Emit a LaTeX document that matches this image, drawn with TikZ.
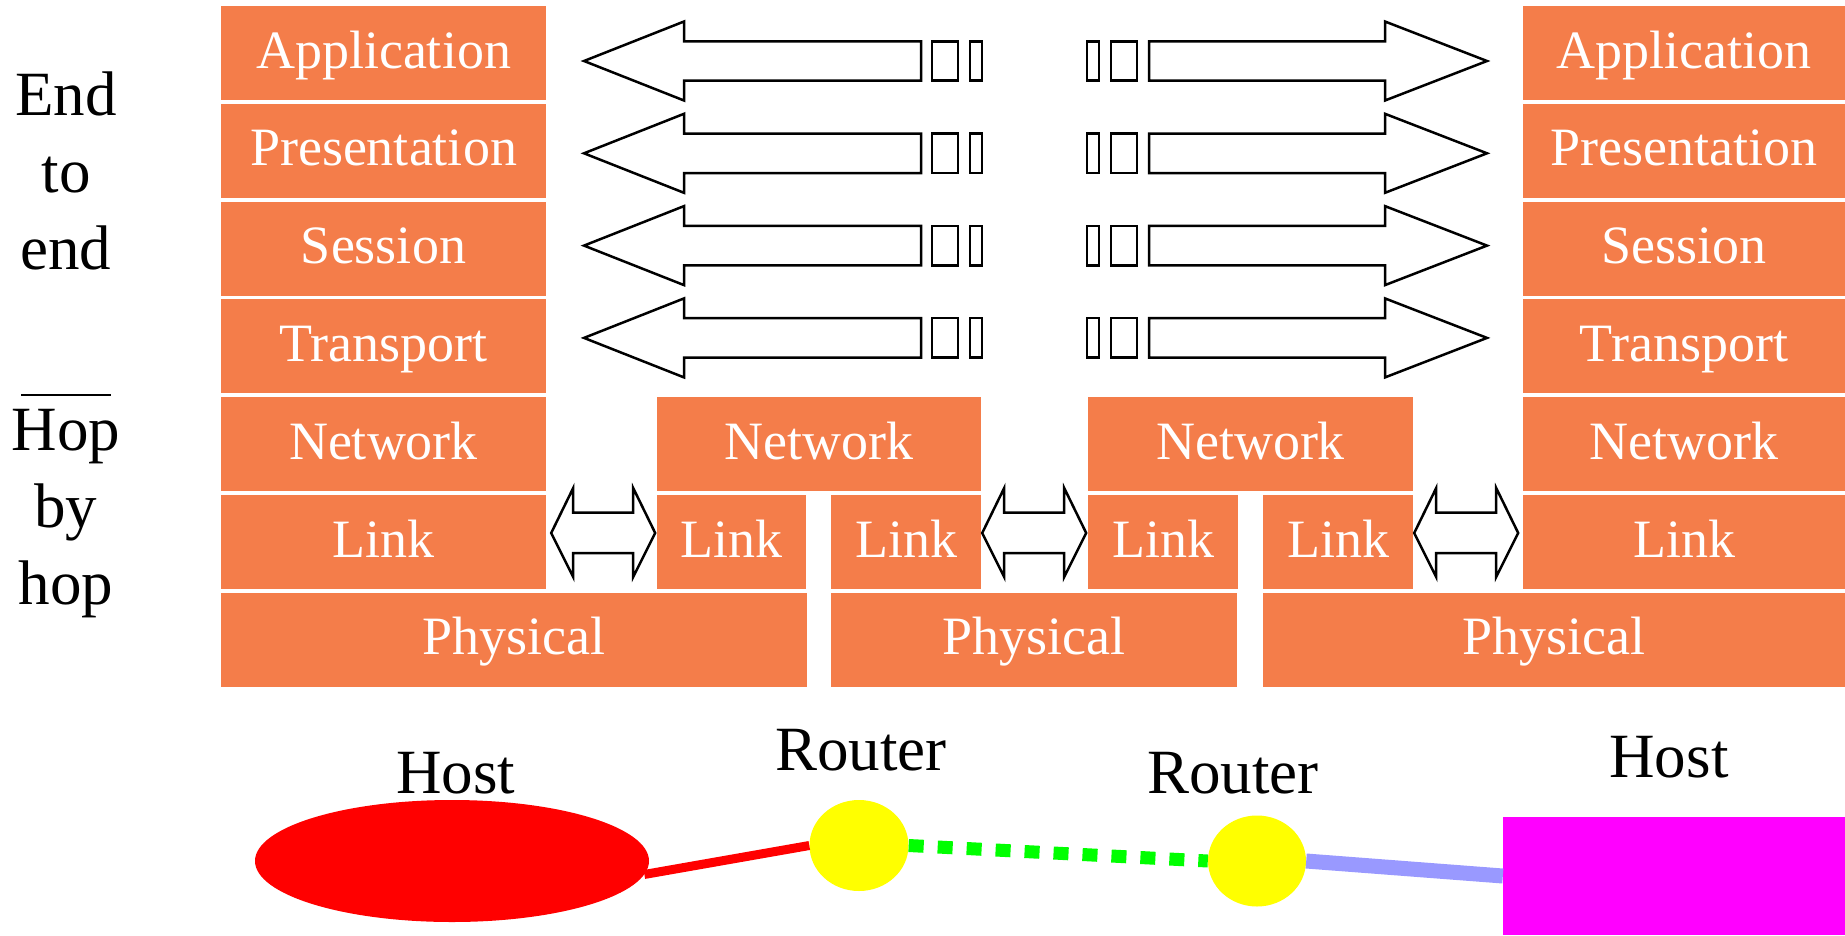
\documentclass[tikz,border=0pt]{standalone}
\usepackage{fontspec}
\setmainfont{Liberation Serif}
\usetikzlibrary{shapes.geometric,calc}
\definecolor{layerorange}{RGB}{244,125,74}
\definecolor{linkblue}{RGB}{153,153,255}
\definecolor{hostred}{RGB}{255,0,0}
\definecolor{routeryellow}{RGB}{255,255,0}
\definecolor{hostmagenta}{RGB}{255,0,255}
\definecolor{linkgreen}{RGB}{0,255,0}
\newcommand{\linkarrow}[1]{\draw[hollow] (#1) -- ++(22,-45) -- ++(0,24.5) -- ++(60,0) -- ++(0,-24.5) -- ++(22,45) -- ++(-22,44) -- ++(0,-24) -- ++(-60,0) -- ++(0,24) -- cycle;}
\begin{document}
\begin{tikzpicture}[x=1pt, y=-1pt]
    % OSI stacks of two hosts and two routers
    \tikzset{layer/.style={fill=layerorange, text=white, inner sep=0pt, minimum height=94pt, text height=40pt, text depth=10pt, font=\fontsize{54}{60}\selectfont},
             hollow/.style={draw=black, fill=white, line width=2.5pt, line join=miter},
             sidelabel/.style={anchor=north, align=center, inner sep=0pt, font=\fontsize{63}{77}\selectfont},
             devlabel/.style={anchor=base, inner sep=0pt, font=\fontsize{63}{70}\selectfont}}
    \useasboundingbox (0,0) rectangle (1845,935);
    \node[sidelabel] (e2e) at (66,72) {End\\to\\end};
    \node[sidelabel] (hbh) at (66,409) {Hop\\by\\hop};
    \draw[line width=2.5pt] (21,395) -- (111,395);
    % left host
    \node[layer, minimum width=325pt] (aApp) at (383.5,53) {Application};
    \node[layer, minimum width=325pt] (aPres) at (383.5,150.8) {Presentation};
    \node[layer, minimum width=325pt] (aSes) at (383.5,248.6) {Session};
    \node[layer, minimum width=325pt] (aTra) at (383.5,346.4) {Transport};
    \node[layer, minimum width=325pt] (aNet) at (383.5,444.2) {Network};
    \node[layer, minimum width=325pt] (aLink) at (383.5,542) {Link};
    \node[layer, minimum width=586pt] (aPhy) at (514,639.8) {Physical};
    % routers
    \node[layer, minimum width=324pt] (r1Net) at (819,444.2) {Network};
    \node[layer, minimum width=149pt] (r1LinkL) at (731.5,542) {Link};
    \node[layer, minimum width=150pt] (r1LinkR) at (906,542) {Link};
    \node[layer, minimum width=406pt] (r1Phy) at (1034,639.8) {Physical};
    \node[layer, minimum width=325pt] (r2Net) at (1250.5,444.2) {Network};
    \node[layer, minimum width=150pt] (r2LinkL) at (1163,542) {Link};
    \node[layer, minimum width=150pt] (r2LinkR) at (1338,542) {Link};
    \node[layer, minimum width=582pt] (r2Phy) at (1554,639.8) {Physical};
    % right host
    \node[layer, minimum width=322pt] (bApp) at (1684,53) {Application};
    \node[layer, minimum width=322pt] (bPres) at (1684,150.8) {Presentation};
    \node[layer, minimum width=322pt] (bSes) at (1684,248.6) {Session};
    \node[layer, minimum width=322pt] (bTra) at (1684,346.4) {Transport};
    \node[layer, minimum width=322pt] (bNet) at (1684,444.2) {Network};
    \node[layer, minimum width=322pt] (bLink) at (1684,542) {Link};
    % end to end arrows
    \foreach \yc in {61,153.3,245.6,337.9} {
        \begin{scope}[shift={(0,\yc)}]
            \draw[hollow] (584,0) -- (684,-39.5) -- (684,-19.7) -- (921,-19.7) -- (921,19.7) -- (684,19.7) -- (684,39.5) -- cycle;
            \draw[hollow] (932,-19.7) rectangle (958,19.7); \draw[hollow] (970,-19.7) rectangle (982,19.7);
            \draw[hollow] (1087,-19.7) rectangle (1099,19.7); \draw[hollow] (1111,-19.7) rectangle (1137,19.7);
            \draw[hollow] (1149,-19.7) -- (1385,-19.7) -- (1385,-39.5) -- (1487,0) -- (1385,39.5) -- (1385,19.7) -- (1149,19.7) -- cycle;
        \end{scope}
    }
    % hop by hop arrows
    \linkarrow{$(aLink.east)+(5,-9)$}
    \linkarrow{$(r1LinkR.east)+(1,-9)$}
    \linkarrow{$(r2LinkR.east)+(1,-9)$}
    % devices
    \node[ellipse, fill=hostred, minimum width=394pt, minimum height=122pt, inner sep=0pt] (hostA) at (452,861) {};
    \node[ellipse, fill=routeryellow, minimum width=99pt, minimum height=91pt, inner sep=0pt] (r1) at (859,845.5) {};
    \node[ellipse, fill=routeryellow, minimum width=98pt, minimum height=91pt, inner sep=0pt] (r2) at (1257,861) {};
    \node[rectangle, fill=hostmagenta, minimum width=342pt, minimum height=118pt, inner sep=0pt] (hostB) at (1674,876) {};
    \draw[hostred, line width=9pt] (hostA.-4) -- (r1.west);
    \draw[linkgreen, line width=13pt, dash pattern=on 15pt off 14pt] (r1.east) -- (r2.west);
    \draw[linkblue, line width=15pt] (r2.east) -- (hostB.west);
    \node[devlabel] (hostAlab) at (456,793) {Host};
    \node[devlabel] (r1lab) at (861,770) {Router};
    \node[devlabel] (r2lab) at (1233,793) {Router};
    \node[devlabel] (hostBlab) at (1669,777) {Host};
\end{tikzpicture}
\end{document}
